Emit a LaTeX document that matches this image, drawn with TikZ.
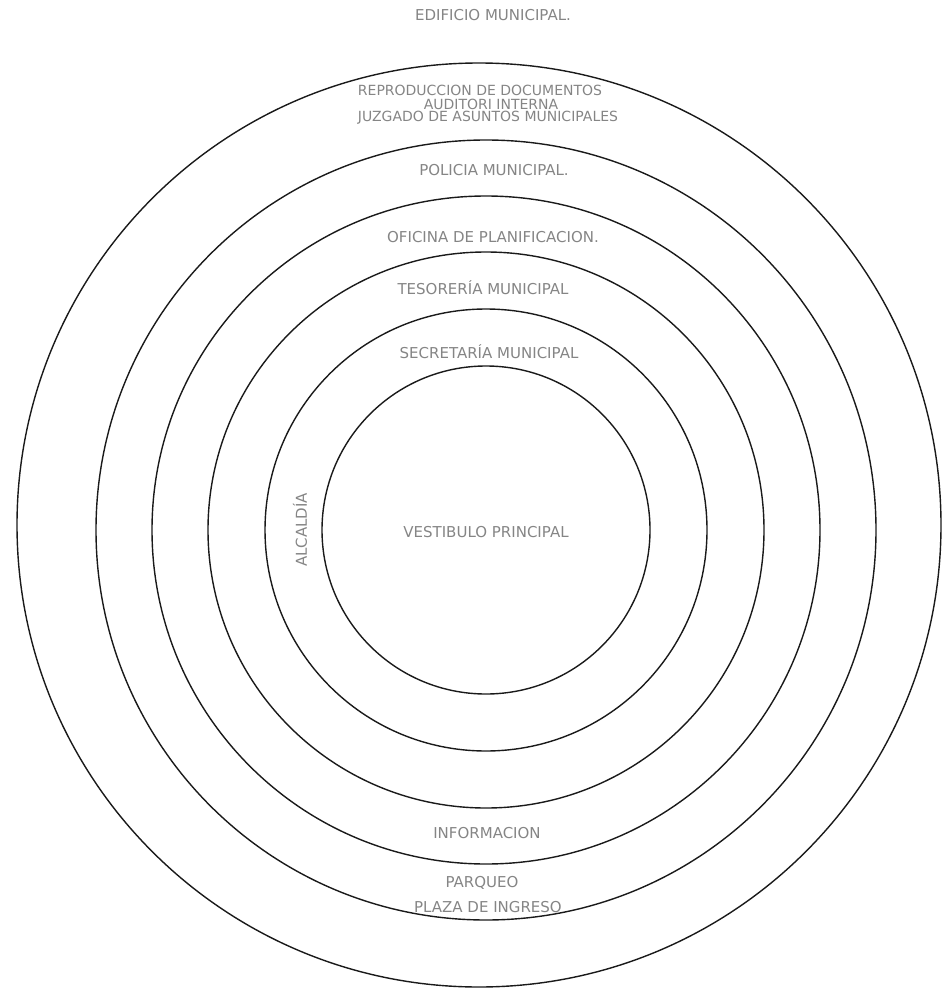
\documentclass[tikz,border=0pt]{standalone}
\usepackage{fontspec}
\setmainfont{DejaVu Sans}
\definecolor{ringBlack}{HTML}{1A1A1A}
\definecolor{textGray}{HTML}{858585}

\begin{document}
\begin{tikzpicture}[x=1pt, y=-1pt]

    % --- 1. Page frame ---
    \useasboundingbox (0, 0) rectangle (943, 995);

    % --- 2. The Rings ---
    \tikzstyle{ring}=[ringBlack, line width=1.4pt]

    % Inner rings share one centre
    \foreach \r in {164, 221, 278, 334, 390} {
        \draw[ring] (486, 530) circle (\r pt);
    }
    % Outer ring (site boundary) sits a little up and left
    \draw[ring] (479, 525) circle (462pt);


    % --- 3. Room Labels ---
    \tikzstyle{roomtext}=[text=textGray, inner sep=0pt, font=\fontsize{15}{17}\selectfont]
    \tikzstyle{tighttext}=[roomtext, font=\fontsize{14}{16}\selectfont]

    % Title above the plan
    \node[roomtext] (edificio) at (493, 15) {EDIFICIO MUNICIPAL.};

    % Outer band (three offices stacked close)
    \node[tighttext] (reproduccion) at (480, 90) {REPRODUCCION DE DOCUMENTOS};
    \node[tighttext] (auditoria) at (491, 104) {AUDITORI INTERNA};
    \node[tighttext] (juzgado) at (488, 118) {JUZGADO DE ASUNTOS MUNICIPALES};

    % Middle bands
    \node[roomtext] (policia) at (494, 170) {POLICIA MUNICIPAL.};
    \node[roomtext] (oficina) at (493, 237) {OFICINA DE PLANIFICACION.};
    \node[roomtext] (tesoreria) at (483, 288) {TESORERÍA MUNICIPAL};
    \node[roomtext] (secretaria) at (489, 352) {SECRETARÍA MUNICIPAL};

    % Left side of the secretaria band
    \node[roomtext, rotate=90] (alcaldia) at (300, 530) {ALCALDÍA};

    % Centre
    \node[roomtext] (vestibulo) at (486, 532) {VESTIBULO PRINCIPAL};

    % Lower bands
    \node[roomtext] (informacion) at (487, 833) {INFORMACION};
    \node[roomtext] (parqueo) at (482, 883) {PARQUEO};
    \node[roomtext] (plaza) at (488, 907) {PLAZA DE INGRESO};

\end{tikzpicture}
\end{document}
